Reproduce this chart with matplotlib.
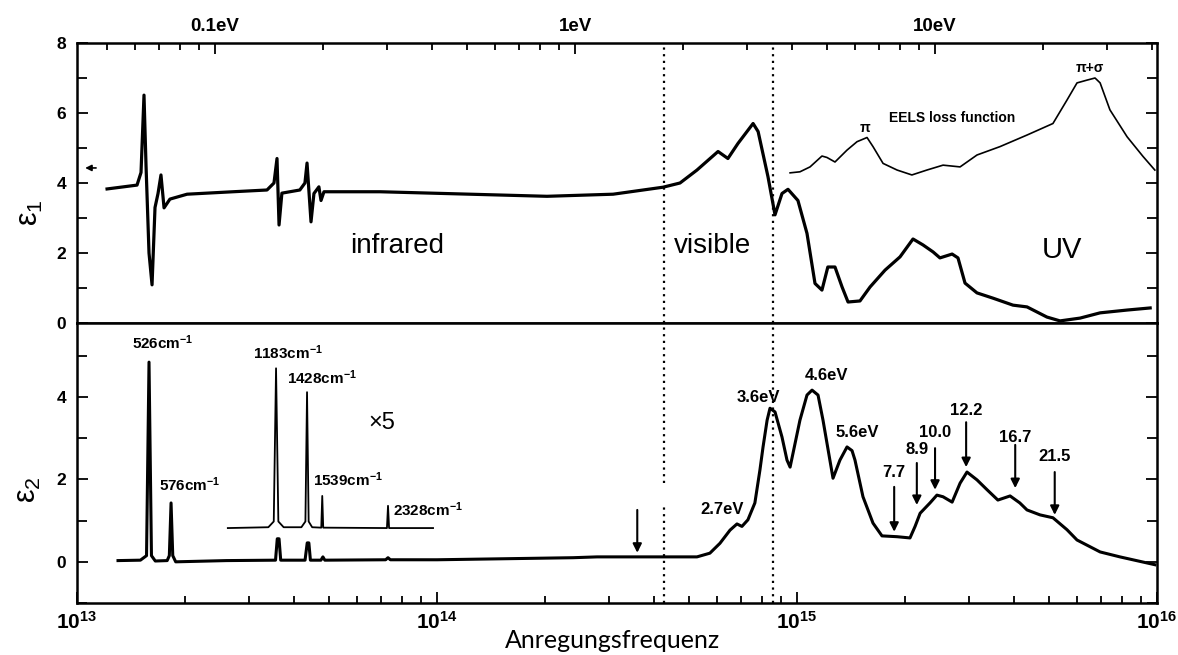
import matplotlib
matplotlib.use("Agg")
import matplotlib.pyplot as plt
from matplotlib.ticker import FixedLocator, FixedFormatter, NullFormatter

plt.rcParams["font.family"] = ["Liberation Sans", "DejaVu Sans"]
plt.rcParams["mathtext.default"] = "regular"

HZ_PER_EV = 2.418e14

# ---- epsilon_1 (real part), frequency in Hz ----
eps1_freq = [1.212e13, 1.468e13, 1.506e13, 1.535e13, 1.555e13, 1.585e13, 1.616e13,
             1.647e13, 1.679e13, 1.711e13, 1.745e13, 1.812e13, 2.022e13, 2.713e13,
             3.371e13, 3.525e13, 3.594e13, 3.641e13, 3.708e13, 4.159e13, 4.297e13,
             4.355e13, 4.467e13, 4.552e13, 4.698e13, 4.762e13, 4.853e13, 6.950e13,
             2.021e14, 3.085e14, 4.246e14, 4.732e14, 5.274e14, 6.035e14, 6.428e14,
             6.855e14, 7.551e14, 7.798e14, 8.306e14, 8.688e14, 9.085e14, 9.440e14,
             1.006e15, 1.066e15, 1.122e15, 1.173e15, 1.218e15, 1.275e15, 1.334e15,
             1.386e15, 1.496e15, 1.596e15, 1.756e15, 1.933e15, 2.100e15, 2.239e15,
             2.388e15, 2.495e15, 2.697e15, 2.800e15, 2.929e15, 3.162e15, 3.502e15,
             3.981e15, 4.354e15, 4.945e15, 5.378e15, 6.114e15, 6.950e15, 8.260e15,
             9.572e15]
eps1_val = [3.83, 3.94, 4.30, 6.51, 4.50, 2.00, 1.09,
            3.30, 3.70, 4.23, 3.29, 3.54, 3.68, 3.75,
            3.80, 4.00, 4.70, 2.80, 3.71, 3.80, 4.00,
            4.57, 2.89, 3.70, 3.89, 3.50, 3.75, 3.75,
            3.62, 3.68, 3.88, 4.00, 4.37, 4.90, 4.70,
            5.13, 5.70, 5.47, 4.18, 3.09, 3.70, 3.82,
            3.50, 2.56, 1.13, 0.94, 1.60, 1.60, 1.03,
            0.60, 0.63, 1.03, 1.51, 1.89, 2.40, 2.23,
            2.03, 1.86, 1.97, 1.86, 1.14, 0.86, 0.71,
            0.51, 0.46, 0.17, 0.06, 0.14, 0.29, 0.37,
            0.43]

# ---- EELS loss function (arbitrary units, drawn on the epsilon_1 scale) ----
eels_freq = [9.568e14, 1.019e15, 1.087e15, 1.173e15, 1.211e15, 1.275e15, 1.377e15,
             1.468e15, 1.565e15, 1.626e15, 1.734e15, 1.897e15, 2.085e15, 2.295e15,
             2.545e15, 2.838e15, 3.162e15, 3.664e15, 4.354e15, 5.140e15, 5.623e15,
             5.995e15, 6.393e15, 6.728e15, 6.950e15, 7.400e15, 8.260e15, 9.142e15,
             9.863e15]
eels_val = [4.29, 4.32, 4.46, 4.77, 4.73, 4.60, 4.94,
            5.18, 5.30, 5.04, 4.56, 4.37, 4.23, 4.37,
            4.51, 4.46, 4.80, 5.04, 5.37, 5.70, 6.37,
            6.86, 6.94, 7.00, 6.86, 6.09, 5.32, 4.76,
            4.37]

# ---- epsilon_2 (imaginary part) ----
eps2_freq = [1.300e13, 1.500e13, 1.560e13, 1.585e13, 1.610e13, 1.650e13, 1.780e13,
             1.805e13, 1.825e13, 1.845e13, 1.880e13, 2.600e13, 3.560e13, 3.600e13,
             3.641e13, 3.680e13, 4.300e13, 4.360e13, 4.406e13, 4.450e13, 4.760e13,
             4.820e13, 4.880e13, 7.200e13, 7.310e13, 7.420e13, 1.000e14, 2.387e14,
             2.783e14, 5.274e14, 5.728e14, 6.109e14, 6.516e14, 6.812e14, 7.031e14,
             7.305e14, 7.638e14, 7.889e14, 8.048e14, 8.260e14, 8.414e14, 8.688e14,
             9.085e14, 9.380e14, 9.568e14, 9.750e14, 1.019e15, 1.066e15, 1.101e15,
             1.144e15, 1.181e15, 1.259e15, 1.316e15, 1.377e15, 1.422e15, 1.449e15,
             1.525e15, 1.626e15, 1.722e15, 1.897e15, 2.060e15, 2.128e15, 2.198e15,
             2.341e15, 2.447e15, 2.545e15, 2.697e15, 2.838e15, 2.966e15, 3.162e15,
             3.373e15, 3.614e15, 3.908e15, 4.159e15, 4.354e15, 4.732e15, 5.140e15,
             5.623e15, 5.995e15, 6.950e15, 7.889e15, 9.863e15]
eps2_val = [0.03, 0.04, 0.15, 4.85, 0.15, 0.02, 0.03,
            0.15, 1.43, 0.15, 0.00, 0.03, 0.04, 0.56,
            0.56, 0.04, 0.04, 0.46, 0.46, 0.04, 0.04,
            0.12, 0.04, 0.05, 0.10, 0.05, 0.05, 0.10,
            0.12, 0.12, 0.21, 0.45, 0.77, 0.92, 0.86,
            1.02, 1.43, 2.23, 2.79, 3.44, 3.73, 3.64,
            3.03, 2.47, 2.30, 2.64, 3.44, 4.05, 4.17,
            4.05, 3.44, 2.03, 2.47, 2.79, 2.70, 2.47,
            1.58, 0.94, 0.63, 0.61, 0.58, 0.86, 1.18,
            1.43, 1.62, 1.58, 1.45, 1.91, 2.18, 1.99,
            1.75, 1.50, 1.60, 1.43, 1.26, 1.14, 1.07,
            0.78, 0.53, 0.24, 0.12, -0.07]

# ---- phonon lines magnified x5 (drawn offset above the main trace) ----
x5_freq = [2.624e13, 3.400e13, 3.520e13, 3.572e13, 3.625e13, 3.750e13, 4.200e13,
           4.310e13, 4.355e13, 4.400e13, 4.500e13, 4.770e13, 4.800e13, 4.830e13,
           7.260e13, 7.310e13, 7.360e13, 9.750e13]
x5_val = [0.82, 0.84, 0.98, 4.70, 0.98, 0.84, 0.84,
          0.98, 4.12, 0.98, 0.84, 0.83, 1.60, 0.83,
          0.82, 1.36, 0.82, 0.82]

# ---- annotations ----
band_edges = [4.28e14, 8.57e14]           # visible range boundaries (Hz)
static_eps1 = 4.43                         # marked static value on the eps1 axis

ir_labels = ["526cm$^{-1}$", "576cm$^{-1}$", "1183cm$^{-1}$", "1428cm$^{-1}$",
             "1539cm$^{-1}$", "2328cm$^{-1}$"]
ir_label_freq = [1.734e13, 2.060e13, 3.855e13, 4.800e13, 5.660e13, 7.550e13]
ir_label_y = [5.31, 1.87, 5.07, 4.48, 1.99, 1.26]

peak_labels = ["2.7eV", "3.6eV", "4.6eV", "5.6eV"]
peak_label_freq = [6.19e14, 7.80e14, 1.21e15, 1.468e15]
peak_label_y = [1.26, 4.00, 4.53, 3.13]

uv_arrow_ev = [7.7, 8.9, 10.0, 12.2, 16.7, 21.5]
uv_arrow_tail = [1.82, 2.40, 2.76, 3.39, 2.84, 2.18]
uv_arrow_head = [0.73, 1.38, 1.75, 2.30, 1.79, 1.14]
uv_label_y = [2.16, 2.72, 3.13, 3.68, 3.03, 2.55]

gap_arrow_freq = 3.6e14
gap_arrow_tail, gap_arrow_head = 1.26, 0.22

ev_major = [0.1, 1, 10]
ev_major_labels = ["0.1eV", "1eV", "10eV"]
ev_minor = [0.05, 0.06, 0.07, 0.08, 0.09, 0.2, 0.3, 0.4, 0.5, 0.6, 0.7, 0.8, 0.9,
            2, 3, 4, 5, 6, 7, 8, 9, 20, 30, 40]

hz_major = [1e13, 1e14, 1e15, 1e16]
hz_major_labels = ["10$^{13}$", "10$^{14}$", "10$^{15}$", "10$^{16}$"]

# ---------------------------------------------------------------------------
W, H = 1178, 655
fig = plt.figure(figsize=(W / 100, H / 100), dpi=100)
left, right = 77 / W, 1157 / W
ax1 = fig.add_axes([left, 1 - 323 / H, right - left, 280 / H])
ax2 = fig.add_axes([left, 1 - 603 / H, right - left, 280 / H])

LW_SP = 1.8
for ax in (ax1, ax2):
    ax.set_xscale("log")
    ax.set_xlim(1e13, 1e16)
    for sp in ax.spines.values():
        sp.set_linewidth(LW_SP)


def bold_labels(labels, size):
    for lab in labels:
        lab.set_fontsize(size)
        lab.set_fontweight("bold")


# upper panel
ax1.set_ylim(0, 8)
ax1.plot(eps1_freq, eps1_val, color="black", lw=2.3, solid_joinstyle="round")
ax1.plot(eels_freq, eels_val, color="black", lw=1.2)
ax1.annotate("", xy=(1.035e13, static_eps1), xytext=(1.15e13, static_eps1),
             arrowprops=dict(arrowstyle="-|>", color="black", lw=1.2, mutation_scale=9))
ax1.yaxis.set_major_locator(FixedLocator([0, 2, 4, 6, 8]))
ax1.yaxis.set_minor_locator(FixedLocator([1, 3, 5, 7]))
ax1.tick_params(axis="y", which="both", direction="in", left=True, right=True,
                width=1.3, pad=8)
ax1.tick_params(axis="y", which="major", length=8)
ax1.tick_params(axis="y", which="minor", length=7)
bold_labels(ax1.get_yticklabels(), 12.5)

ax1.xaxis.set_major_locator(FixedLocator([v * HZ_PER_EV for v in ev_major]))
ax1.xaxis.set_major_formatter(FixedFormatter(ev_major_labels))
ax1.xaxis.set_minor_locator(FixedLocator([v * HZ_PER_EV for v in ev_minor]))
ax1.xaxis.set_minor_formatter(NullFormatter())
ax1.tick_params(axis="x", which="both", direction="in", bottom=False, top=True,
                labelbottom=False, labeltop=True, width=1.3, pad=6)
ax1.tick_params(axis="x", which="major", length=8)
ax1.tick_params(axis="x", which="minor", length=5)
bold_labels(ax1.get_xticklabels(), 13.5)

ax1.text(7.74e13, 2.2, "infrared", fontsize=20, ha="center", va="center")
ax1.text(5.81e14, 2.2, "visible", fontsize=20, ha="center", va="center")
ax1.text(5.44e15, 2.09, "UV", fontsize=21, ha="center", va="center")
ax1.text(2.697e15, 5.86, "EELS loss function", fontsize=10, fontweight="bold",
         ha="center", va="center")
ax1.text(1.546e15, 5.57, "π", fontsize=10, fontweight="bold", ha="center", va="center")
ax1.text(6.52e15, 7.29, "π+σ", fontsize=10, fontweight="bold", ha="center", va="center")

# lower panel
ax2.set_ylim(-1, 5.8)
ax2.plot(eps2_freq, eps2_val, color="black", lw=2.2, solid_joinstyle="round")
ax2.plot(x5_freq, x5_val, color="black", lw=1.3)
ax2.yaxis.set_major_locator(FixedLocator([0, 2, 4]))
ax2.yaxis.set_minor_locator(FixedLocator([-1, 1, 3, 5]))
ax2.tick_params(axis="y", which="both", direction="in", left=True, right=True,
                width=1.3, pad=8)
ax2.tick_params(axis="y", which="major", length=8)
ax2.tick_params(axis="y", which="minor", length=7)
bold_labels(ax2.get_yticklabels(), 12.5)

ax2.xaxis.set_major_locator(FixedLocator(hz_major))
ax2.xaxis.set_major_formatter(FixedFormatter(hz_major_labels))
ax2.xaxis.set_minor_formatter(NullFormatter())
ax2.tick_params(axis="x", which="both", direction="in", bottom=True, top=False,
                labelbottom=True, labeltop=False, width=1.3, pad=6)
ax2.tick_params(axis="x", which="major", length=8)
ax2.tick_params(axis="x", which="minor", length=5)
bold_labels(ax2.get_xticklabels(), 15)

for s, fx, fy in zip(ir_labels, ir_label_freq, ir_label_y):
    ha = "left" if s.startswith("2328") else "center"
    ax2.text(fx, fy, s, fontsize=11, fontweight="bold", ha=ha, va="center")
ax2.text(7.03e13, 3.37, "×5", fontsize=17, ha="center", va="center")

for s, fx, fy in zip(peak_labels, peak_label_freq, peak_label_y):
    ax2.text(fx, fy, s, fontsize=12, fontweight="bold", ha="center", va="center")

arrow_style = dict(arrowstyle="-|>", color="black", lw=1.5, mutation_scale=13,
                   shrinkA=0, shrinkB=0)
for ev, yt, yh, yl in zip(uv_arrow_ev, uv_arrow_tail, uv_arrow_head, uv_label_y):
    f = ev * HZ_PER_EV
    ax2.annotate("", xy=(f, yh), xytext=(f, yt), arrowprops=arrow_style)
    ax2.text(f, yl, f"{ev:.1f}", fontsize=12, fontweight="bold",
             ha="center", va="center")
ax2.annotate("", xy=(gap_arrow_freq, gap_arrow_head),
             xytext=(gap_arrow_freq, gap_arrow_tail), arrowprops=arrow_style)

# visible-range boundaries
dotted = dict(color="black", ls=(0, (1, 2)), lw=1.6)
for f in band_edges:
    ax1.axvline(f, **dotted)
ax2.axvline(band_edges[0], ymin=0, ymax=0.343, **dotted)
ax2.axvline(band_edges[0], ymin=0.429, ymax=1, **dotted)
ax2.axvline(band_edges[1], **dotted)

# axis titles
fig.text(30 / W, 1 - 213 / H, r"$\varepsilon_1$", fontsize=22, rotation=90,
         ha="center", va="center")
fig.text(28 / W, 1 - 490 / H, r"$\varepsilon_2$", fontsize=22, rotation=90,
         ha="center", va="center")
fig.text(612 / W, 1 - 640 / H, "Anregungsfrequenz", fontsize=18, family="Lato",
         ha="center", va="center")

fig.savefig("out.png", dpi=100)
